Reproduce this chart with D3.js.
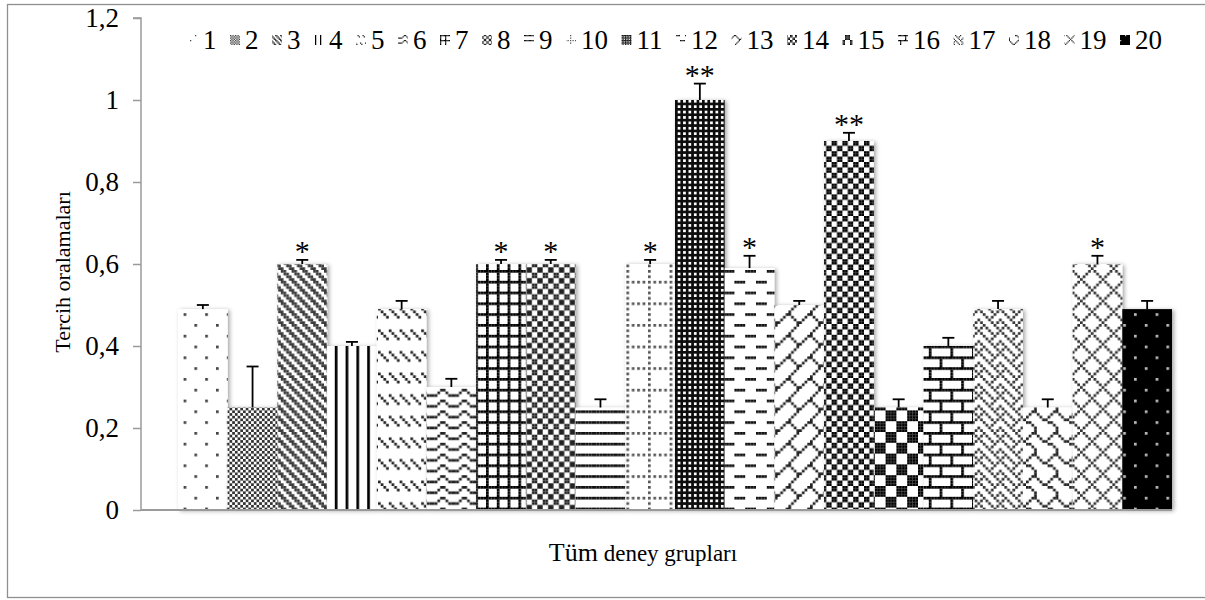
<!DOCTYPE html>
<html>
<head>
<meta charset="utf-8">
<script src="https://cdn.jsdelivr.net/npm/d3@7"></script>
<style>
html,body{margin:0;padding:0;background:#fff;}
svg{display:block;font-family:"Liberation Serif","Times New Roman",serif;}
svg text{font-family:"Liberation Serif","Times New Roman",serif;}
</style>
</head>
<body>
<svg id="chart" width="1205" height="600"></svg>
<script>
// ---- data ----
const groups = ["1","2","3","4","5","6","7","8","9","10","11","12","13","14","15","16","17","18","19","20"];
const means  = [0.49,0.25,0.60,0.40,0.49,0.30,0.60,0.60,0.25,0.60,1.00,0.59,0.50,0.90,0.25,0.40,0.49,0.25,0.60,0.49];
const errors = [0.01,0.10,0.01,0.01,0.02,0.02,0.01,0.01,0.02,0.01,0.04,0.03,0.01,0.02,0.02,0.02,0.02,0.02,0.02,0.02];
const marks  = ["","","*","","","","*","*","","*","**","*","","**","","","","","*",""];
const yTicks = [0,0.2,0.4,0.6,0.8,1.0,1.2];
const yTitle = "Tercih oralamaları";
const xTitleA = "Tüm";
const xTitleB = " deney grupları";

// ---- pattern bitmaps, one per group ----
const bitmaps = [
  {fg:"#444", bg:"#fff", rows:["#.......","........","........","........","....#...","........","........","........"]},
  {fg:"#333", bg:"#fff", rows:["#.",".#"]},
  {fg:"#3a3a3a", bg:"#fff", rows:["##..",".##.","..##","#..#"]},
  {fg:"#000", bg:"#fff", rows:["#..."]},
  {fg:"#222", bg:"#fff", rows:["........","........","#...#...",".#...#..","..#...#.","...#...#","........","........"]},
  {fg:"#222", bg:"#fff", rows:["...##...","..#..#..","##....##","........"]},
  {fg:"#000", bg:"#fff", rows:["####","#...","#...","#..."]},
  {fg:"#222", bg:"#fff", rows:["#..#",".##.",".##.","#..#"]},
  {fg:"#111", bg:"#fff", rows:["####","....","....","...."]},
  {fg:"#555", bg:"#fff", rows:["#.#.#.#.","........","#.......","........","#.......","........","#.......","........"]},
  {fg:"#111", bg:"#fff", rows:["##","#."]},
  {fg:"#111", bg:"#fff", rows:["####....","........","........","........","....####","........","........","........"]},
  {fg:"#222", bg:"#fff", rows:[".......#","......#.",".....#..","....#...","...##...","..#..#..",".#....#.","#......#"]},
  {fg:"#000", bg:"#fff", rows:["##..","##..","..##","..##"]},
  {fg:"#000", bg:"#fff", rows:["####....","####....","####....","####....","....####","....####","....####","....####"]},
  {fg:"#000", bg:"#fff", rows:["########","#.......","#.......","#.......","########","....#...","....#...","....#..."]},
  {fg:"#333", bg:"#fff", rows:["#...#...",".#.#.#..","..#...#.",".#.#...#","#...#...",".....#.#","..#...#.",".#.#...#"]},
  {fg:"#222", bg:"#fff", rows:["......##","#....#..",".#..#...","..##....","....##..","......#.",".......#",".......#"]},
  {fg:"#333", bg:"#fff", rows:[".#.....#","..#...#.","...#.#..","....#...","...#.#..","..#...#.",".#.....#","#......."]},
  {fg:"#bbb", bg:"#000", rows:["#.......","........","........","........","....#...","........","........","........"]}
];

const svg = d3.select("#chart");
const defs = svg.append("defs");

function makePattern(id, bm, s) {
  const h = bm.rows.length, w = bm.rows[0].length;
  const p = defs.append("pattern").attr("id", id)
    .attr("patternUnits", "userSpaceOnUse")
    .attr("width", w * s).attr("height", h * s);
  p.append("rect").attr("width", w * s).attr("height", h * s).attr("fill", bm.bg);
  bm.rows.forEach((r, yy) => {
    for (let xx = 0; xx < r.length; xx++) {
      if (r[xx] === "#") {
        p.append("rect").attr("x", xx * s).attr("y", yy * s)
          .attr("width", s).attr("height", s).attr("fill", bm.fg);
      }
    }
  });
}
bitmaps.forEach((bm, i) => {
  makePattern("pat" + i, bm, 2.7);
  makePattern("lpat" + i, bm, 1.25);
});

const shadow = defs.append("filter").attr("id", "shadow")
  .attr("x", "-20%").attr("y", "-5%").attr("width", "140%").attr("height", "115%");
shadow.append("feDropShadow").attr("dx", 2).attr("dy", 1).attr("stdDeviation", 2)
  .attr("flood-color", "#000").attr("flood-opacity", 0.35);

// outer border
svg.append("rect").attr("x", 7.5).attr("y", 4.5).attr("width", 1210).attr("height", 593)
  .attr("fill", "none").attr("stroke", "#8f8f8f").attr("stroke-width", 1.3);

// scales
const y = d3.scaleLinear().domain([0, 1.2]).range([510, 18]);
const x = d3.scaleBand().domain(groups).range([178, 1172]).padding(0);
const axisX = 141;

// y axis
const yAxis = d3.axisLeft(y).tickValues(yTicks).tickSize(8)
  .tickFormat(d => String(+d.toFixed(1)).replace(".", ","));
const gy = svg.append("g").attr("transform", `translate(${axisX},0)`).call(yAxis)
  .attr("font-family", "Liberation Serif").attr("font-size", 27);
gy.select(".domain").attr("stroke", "#9a9a9a").attr("stroke-width", 1.5).attr("d", `M-8,${y(1.2)}H0V${y(0)}`);
gy.selectAll(".tick line").attr("stroke", "#9a9a9a").attr("stroke-width", 1.5);
gy.selectAll(".tick text").attr("x", -22).attr("fill", "#000");

// bars
svg.append("g").selectAll("rect").data(groups).join("rect")
  .attr("x", d => x(d))
  .attr("y", (d, i) => y(means[i]))
  .attr("width", x.bandwidth())
  .attr("height", (d, i) => y(0) - y(means[i]))
  .attr("fill", (d, i) => `url(#pat${i})`)
  .attr("filter", "url(#shadow)");

// x axis line
svg.append("line").attr("x1", axisX).attr("x2", 1172)
  .attr("y1", y(0)).attr("y2", y(0))
  .attr("stroke", "#9a9a9a").attr("stroke-width", 2);

// error bars
const eg = svg.append("g").attr("stroke", "#000").attr("stroke-width", 1.8);
groups.forEach((g, i) => {
  const cx = x(g) + x.bandwidth() / 2;
  eg.append("line").attr("x1", cx).attr("x2", cx)
    .attr("y1", y(means[i])).attr("y2", y(means[i] + errors[i]));
  eg.append("line").attr("x1", cx - 6).attr("x2", cx + 6)
    .attr("y1", y(means[i] + errors[i])).attr("y2", y(means[i] + errors[i]));
});

// significance marks
svg.append("g").selectAll("text").data(groups).join("text")
  .attr("x", d => x(d) + x.bandwidth() / 2)
  .attr("y", (d, i) => y(means[i] + errors[i]) + 1)
  .attr("text-anchor", "middle")
  .attr("font-family", "Liberation Serif")
  .attr("font-size", 30)
  .attr("fill", "#000")
  .text((d, i) => marks[i]);

// legend
const lg = svg.append("g").attr("font-size", 27).attr("font-family", "Liberation Serif");
let lx = 188;
groups.forEach((g, i) => {
  lg.append("rect").attr("x", lx).attr("y", 35).attr("width", 10).attr("height", 10)
    .attr("fill", `url(#lpat${i})`);
  const t = lg.append("text").attr("x", lx + 15).attr("y", 49).attr("fill", "#000").text(g);
  const w = t.node().getComputedTextLength();
  lx += 15 + w + 13.5;
});

// axis titles
svg.append("text")
  .attr("transform", `translate(70,${y(0.6) + 8}) rotate(-90)`)
  .attr("text-anchor", "middle").attr("font-size", 22).attr("fill", "#000")
  .text(yTitle);

const xt = svg.append("text").attr("x", 643).attr("y", 561)
  .attr("text-anchor", "middle").attr("fill", "#000");
xt.append("tspan").attr("font-size", 26).text(xTitleA);
xt.append("tspan").attr("font-size", 23).text(xTitleB);
</script>
</body>
</html>
